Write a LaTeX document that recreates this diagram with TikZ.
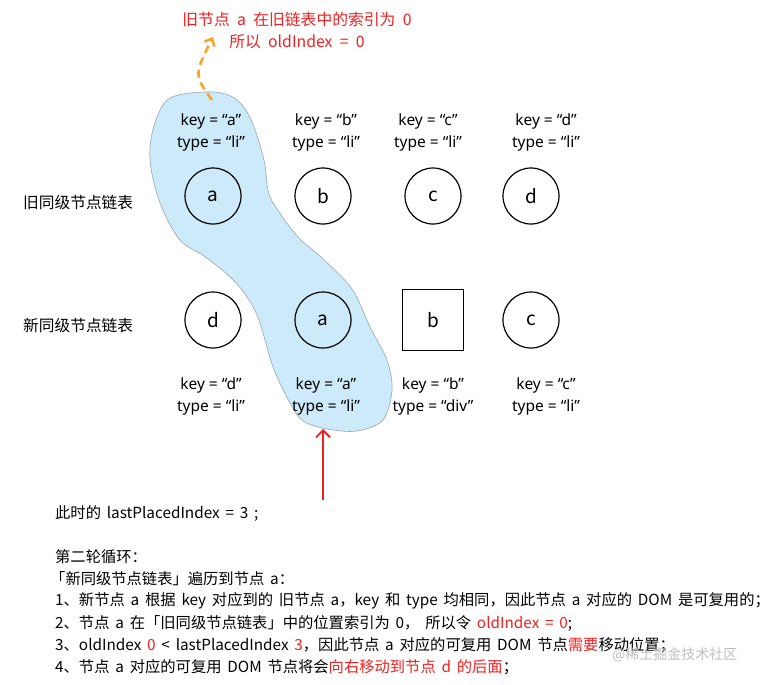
\documentclass[tikz,border=0pt]{standalone}
\usepackage{fontspec}
\setmainfont{Noto Sans CJK SC}
\newfontfamily\latfnt{Noto Sans}
\usetikzlibrary{arrows.meta}
\definecolor{blobfill}{HTML}{CCEAFA}
\definecolor{blobline}{HTML}{9AA7AE}
\definecolor{myred}{HTML}{F02020}
\definecolor{myorange}{HTML}{F4A62A}
\newcommand\kvfnt{\latfnt\fontsize{15.5}{22}\selectfont}
\newcommand\txtfnt{\fontsize{15.3}{14}\selectfont\spaceskip=5.8pt\relax}
\newcommand\rtfnt{\fontsize{15.8}{22}\selectfont\spaceskip=7.3pt\relax}
\begin{document}
\begin{tikzpicture}[x=1pt,y=-1pt,
  nd/.style={draw,circle,line width=1.2pt,minimum size=56pt,inner sep=0pt,font=\fontsize{19}{19}\selectfont},
  sq/.style={draw,rectangle,line width=1.2pt,minimum size=61pt,inner sep=0pt,font=\fontsize{19}{19}\selectfont},
  kv/.style={align=center,font=\kvfnt,inner sep=0pt},
  rowlab/.style={anchor=west,font=\fontsize{15.7}{15}\selectfont,inner sep=0pt},
  txt/.style={anchor=west,font=\txtfnt,inner sep=0pt},
  rtxt/.style={align=center,text=myred,font=\rtfnt,inner sep=0pt}]
\useasboundingbox (0,0) rectangle (777,685);
% blob
\draw[fill=blobfill,draw=blobline,line width=0.6pt] plot[smooth cycle,tension=0.55] coordinates {
 (170,98) (213,92) (237,100) (252,122) (264,160) (268,190) (275,206) (298,237) (322,258) (352,289) (370,327) (387,360) (392,390) (383,420) (357,431) (327,429) (303,421) (290,403) (273,367) (257,315) (237,284) (207,258) (180,240) (160,203) (150,160) (154,126)};
\coordinate (blobtop) at (212,100);
\coordinate (blobbot) at (323,429);
% old row
\node[nd] (oa) at (213,196) {a};
\node[nd] (ob) at (323,196) {b};
\node[nd] (oc) at (433,196) {c};
\node[nd] (od) at (531,196) {d};
\node[kv] (koa) at (211,132) {key = “a”\\type = “li”};
\node[kv] (kob) at (326,132) {key = “b”\\type = “li”};
\node[kv] (koc) at (428,132) {key = “c”\\type = “li”};
\node[kv] (kod) at (546,132) {key = “d”\\type = “li”};
% new row
\node[nd] (nd) at (213,320) {d};
\node[nd] (na) at (323,320) {a};
\node[sq] (nb) at (433,320) {b};
\node[nd] (nc) at (531,320) {c};
\node[kv] (knd) at (211,396) {key = “d”\\type = “li”};
\node[kv] (kna) at (326,396) {key = “a”\\type = “li”};
\node[kv] (knb) at (433,396) {key = “b”\\type = “div”};
\node[kv] (knc) at (546,396) {key = “c”\\type = “li”};
% row labels
\node[rowlab] (lold) at (23,203) {旧同级节点链表};
\node[rowlab] (lnew) at (23,326) {新同级节点链表};
% top red text
\node[rtxt] (note) at (297,31) {旧节点 a 在旧链表中的索引为 0\\所以 oldIndex = 0};
\coordinate (otip) at (213,37);
\draw[myorange,line width=2.6pt,dash pattern=on 8pt off 5pt,-{Straight Barb[length=6pt,width=11pt,line width=2.6pt]}]
  (blobtop) .. controls (194,75) .. (otip);
% red arrow
\coordinate (rstart) at (323,500);
\draw[myred,line width=1.8pt,-{Straight Barb[length=7pt,width=14pt,line width=1.8pt]}] (rstart) -- (blobbot);
% bottom text
\node[txt] (t0) at (55,513) {此时的 lastPlacedIndex = 3 ;};
\node[txt] (t1) at (55,557) {第二轮循环：};
\node[txt] (t2) at (50,579) {「新同级节点链表」遍历到节点 a：};
\node[txt] (t3) at (55,601) {1、新节点 a 根据 key 对应到的 旧节点 a，key 和 type 均相同，因此节点 a 对应的 DOM 是可复用的；};
\node[txt] (t4) at (55,623) {2、节点 a 在「旧同级节点链表」中的位置索引为 0， 所以令 {\color{myred}oldIndex = 0};};
\node[txt] (t5) at (55,645) {3、oldIndex {\color{myred}0} < lastPlacedIndex {\color{myred}3}，因此节点 a 对应的可复用 DOM 节点{\color{myred}需要}移动位置；};
\node[txt] (t6) at (55,667) {4、节点 a 对应的可复用 DOM 节点将会{\color{myred}向右移动到节点 d 的后面}；};
\node[anchor=west,inner sep=0pt,text=black!25,font=\fontsize{14}{14}\selectfont] (wm) at (612,655) {@稀土掘金技术社区};
\end{tikzpicture}
\end{document}
